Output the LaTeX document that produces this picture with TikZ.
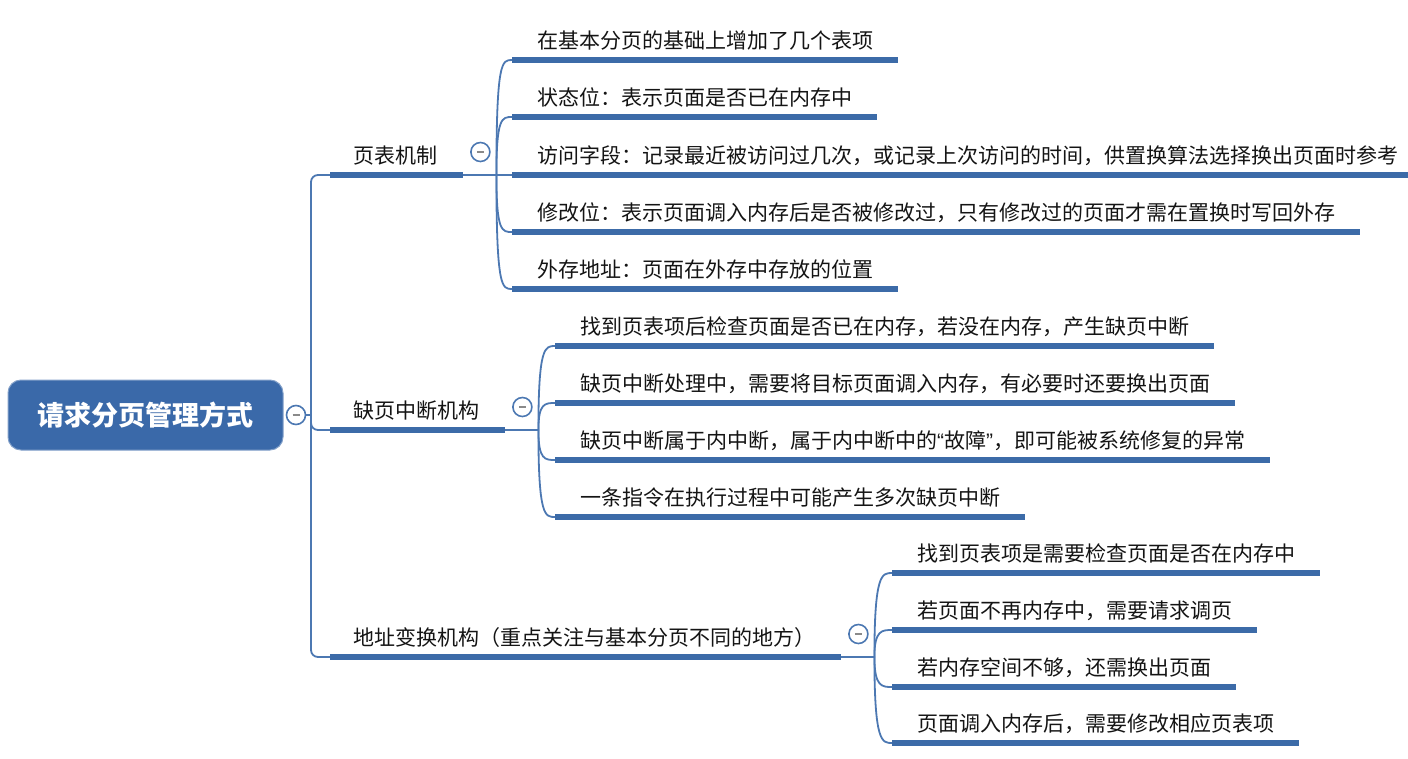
\documentclass[tikz,border=0pt]{standalone}
\usepackage{fontspec}
\newfontfamily\cjk{Noto Sans CJK SC}
\newfontfamily\latn{Liberation Sans}
\usetikzlibrary{calc}
\definecolor{mmblue}{HTML}{3C6BA8}
\definecolor{mmline}{HTML}{4C78B2}
\definecolor{mmroot}{HTML}{3A69A9}
\definecolor{mmgray}{HTML}{8A8A8A}
\tikzset{
  root/.style={rounded corners=13pt,fill=mmroot,draw=mmline!70,line width=1pt,minimum width=275pt,minimum height=70pt,text=white,font=\cjk\bfseries\fontsize{27}{27}\selectfont},
  topic/.style={anchor=base west,inner sep=0pt,font=\cjk\fontsize{21}{21}\selectfont,text=black!92},
  uline/.style={draw=mmblue,line width=5.5pt},
  conn/.style={draw=mmline,line width=1.8pt},
  fold/.style={circle,draw=mmline,fill=white,line width=1.6pt,minimum size=19pt,inner sep=0pt,
    path picture={\draw[mmgray,line width=1.6pt] ([xshift=-3.5pt]path picture bounding box.center) -- ([xshift=3.5pt]path picture bounding box.center);}},
}

\begin{document}
\begin{tikzpicture}[x=1pt,y=-1pt]
  \useasboundingbox (0,0) rectangle (1408,758);
  \node[root] (root) at (145.5,415) {请求分页管理方式};
  \node[fold] (f0) at (296,415) {};
  \coordinate (trunk) at (311,415);
  % main branches
  \foreach \n/\y/\t in {b1/175/页表机制,b2/430/缺页中断机构,b3/657/{地址变换机构（重点关注与基本分页不同的地方）}}{
    \node[topic] (\n) at (353,\y-12) {\t};
    \coordinate (s\n) at (330,\y);
    \coordinate (e\n) at ($(\n.base east)+(26,12)$);
    \draw[uline] (s\n) -- (e\n);
    \coordinate (j\n) at ($(e\n)+(33,0)$);
    \draw[conn] (e\n) -- (j\n);
    \node[fold] (f\n) at ($(e\n)+(17,-23)$) {};
  }
  \draw[conn] (f0) -- (trunk);
  \draw[conn,rounded corners=7pt] (sb1) -| (trunk) |- (sb3);
  \draw[conn,rounded corners=7pt] (trunk) |- (sb2);
  % page table
  \foreach \n/\y/\t in {a1/60/在基本分页的基础上增加了几个表项,
                        a2/117/状态位：表示页面是否已在内存中,
                        a3/175/访问字段：记录最近被访问过几次，或记录上次访问的时间，供置换算法选择换出页面时参考,
                        a4/232/修改位：表示页面调入内存后是否被修改过，只有修改过的页面才需在置换时写回外存,
                        a5/289/外存地址：页面在外存中存放的位置}{
    \coordinate (s\n) at (512,\y);
    \node[topic] (\n) at (537,\y-12) {\t};
    \draw[uline] (s\n) -- ($(\n.base east)+(25,12)$);
    \draw[conn] (jb1) .. controls (jb1 |- s\n) and ($(s\n)+(-10,0)$) .. (s\n);
  }
  % page fault
  \foreach \n/\y/\t in {c1/346/找到页表项后检查页面是否已在内存，若没在内存，产生缺页中断,
                        c2/403/缺页中断处理中，需要将目标页面调入内存，有必要时还要换出页面,
                        c3/460/{缺页中断属于内中断，属于内中断中的{\latn “}故障{\latn ”}，即可能被系统修复的异常},
                        c4/517/一条指令在执行过程中可能产生多次缺页中断}{
    \coordinate (s\n) at (555,\y);
    \node[topic] (\n) at (580,\y-12) {\t};
    \draw[uline] (s\n) -- ($(\n.base east)+(25,12)$);
    \draw[conn] (jb2) .. controls (jb2 |- s\n) and ($(s\n)+(-10,0)$) .. (s\n);
  }
  % address translation
  \foreach \n/\y/\t in {d1/573/找到页表项是需要检查页面是否在内存中,
                        d2/630/若页面不再内存中，需要请求调页,
                        d3/687/若内存空间不够，还需换出页面,
                        d4/743/页面调入内存后，需要修改相应页表项}{
    \coordinate (s\n) at (892,\y);
    \node[topic] (\n) at (917,\y-12) {\t};
    \draw[uline] (s\n) -- ($(\n.base east)+(25,12)$);
    \draw[conn] (jb3) .. controls (jb3 |- s\n) and ($(s\n)+(-10,0)$) .. (s\n);
  }
\end{tikzpicture}
\end{document}
